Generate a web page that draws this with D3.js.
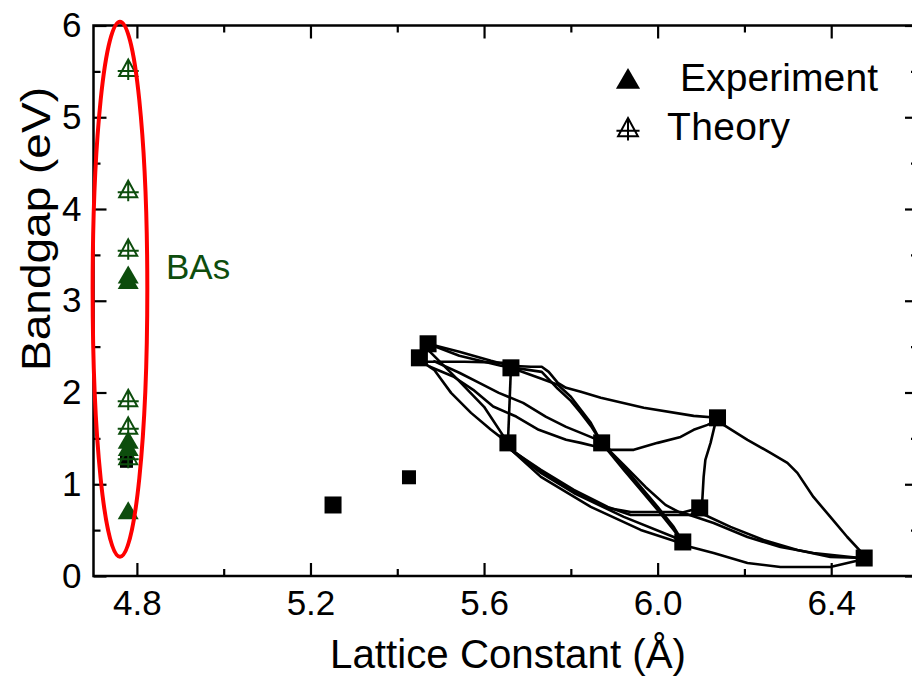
<!DOCTYPE html>
<html>
<head>
<meta charset="utf-8">
<script src="https://cdn.jsdelivr.net/npm/d3@7"></script>
<style>
  html, body { margin: 0; padding: 0; background: #fff; }
  svg { display: block; font-family: "Liberation Sans", Arial, sans-serif; }
</style>
</head>
<body>
<svg id="chart" width="912" height="679"></svg>
<script>
// ---- axis ticks ----
const xMajorTicks = [4.8, 5.2, 5.6, 6.0, 6.4];
const xMinorTicks = [5.0, 5.4, 5.8, 6.2];
const yMajorTicks = [0, 1, 2, 3, 4, 5, 6];
const yMinorTicks = [0.5, 1.5, 2.5, 3.5, 4.5, 5.5];

// ---- binary compounds: lattice constant (Å) and bandgap (eV) ----
const binaryNames   = ["GaP", "AlP", "AlAs", "GaAs", "InP", "AlSb", "GaSb", "InAs", "InSb"];
const binaryLattice = [5.451, 5.471, 5.662, 5.655, 5.871, 6.138, 6.097, 6.058, 6.476];
const binaryGap     = [2.378, 2.531, 2.269, 1.451, 1.451, 1.724, 0.742, 0.371, 0.196];

// ---- other single points (black squares) ----
const otherNames   = ["Ge-like", "Si", "BAs (ref)"];
const otherLattice = [5.252, 5.427, 4.776];
const otherGap     = [0.774, 1.076, 1.250];

// ---- BAs reports ----
const basLattice       = 4.780;
const basExperimentGap = [3.27, 3.21, 1.47, 1.39, 0.70];
const basTheoryGap     = [5.52, 4.20, 3.56, 1.92, 1.62, 1.29];

// ---- alloy curves [lattice, gap] ----
const alGaAs   = [[5.662, 2.269], [5.655, 1.451]];
const alAsP    = [[5.471, 2.531], [5.543, 2.444], [5.616, 2.345], [5.660, 2.291]];
const gaPAlAs  = [[5.467, 2.335], [5.555, 2.335], [5.644, 2.324]];
const alAsSb   = [[5.660, 2.291], [5.708, 2.280], [5.733, 2.280], [5.749, 2.225], [5.770, 2.105],
                  [5.789, 2.051], [5.823, 2.007], [5.869, 1.942], [5.968, 1.833], [6.083, 1.745], [6.138, 1.724]];
const alInAs   = [[5.662, 2.269], [5.726, 2.160], [5.770, 2.084], [5.800, 1.953], [5.823, 1.811],
                  [5.846, 1.669], [5.871, 1.451], [5.922, 1.189], [5.961, 0.971], [6.000, 0.753],
                  [6.037, 0.535], [6.058, 0.371]];
const alInP    = [[5.471, 2.531], [5.543, 2.400], [5.639, 2.291], [5.733, 2.225], [5.770, 2.040],
                  [5.800, 1.909], [5.823, 1.778], [5.846, 1.636], [5.871, 1.451]];
const gaInP    = [[5.483, 2.345], [5.543, 2.215], [5.589, 2.105], [5.634, 1.996], [5.690, 1.887],
                  [5.743, 1.735], [5.789, 1.625], [5.823, 1.560], [5.862, 1.484], [5.871, 1.451]];
const gaInPb   = [[5.474, 2.283], [5.529, 2.174], [5.575, 2.029], [5.621, 1.847], [5.674, 1.738],
                  [5.726, 1.593], [5.789, 1.484], [5.823, 1.451], [5.862, 1.407], [5.871, 1.429]];
const inPAlSb  = [[5.871, 1.429], [5.892, 1.375], [5.945, 1.375], [6.000, 1.451], [6.053, 1.516],
                  [6.083, 1.593], [6.115, 1.647], [6.138, 1.702]];
const gaAsP    = [[5.451, 2.356], [5.485, 2.247], [5.524, 1.996], [5.570, 1.778], [5.616, 1.593], [5.655, 1.451]];
const alPGaAs  = [[5.471, 2.465], [5.540, 2.138], [5.600, 1.844], [5.655, 1.451]];
const gaInAs   = [[5.662, 1.375], [5.731, 1.124], [5.807, 0.905], [5.922, 0.644], [6.037, 0.425], [6.058, 0.371]];
const gaInAsb  = [[5.655, 1.407], [5.731, 1.080], [5.846, 0.753], [5.961, 0.502], [6.046, 0.371]];
const gaAsSb   = [[5.662, 1.375], [5.731, 1.156], [5.807, 0.938], [5.885, 0.753], [5.938, 0.665],
                  [6.076, 0.665], [6.097, 0.742]];
const gaAsInSb = [[5.655, 1.407], [5.731, 1.135], [5.807, 0.916], [5.885, 0.742], [5.938, 0.698],
                  [6.053, 0.698], [6.129, 0.578], [6.207, 0.425], [6.283, 0.316], [6.359, 0.251], [6.467, 0.196]];
const inAsP    = [[5.871, 1.451], [5.922, 1.156], [5.961, 0.938], [6.000, 0.720], [6.037, 0.502], [6.058, 0.371]];
const inPGaSb  = [[5.871, 1.451], [5.922, 1.211], [5.972, 0.971], [6.018, 0.775], [6.053, 0.687], [6.097, 0.742]];
const alGaSb   = [[6.138, 1.724], [6.133, 1.669], [6.122, 1.451], [6.110, 1.265], [6.106, 1.080],
                  [6.103, 0.829], [6.097, 0.742]];
const alInSb   = [[6.138, 1.724], [6.152, 1.647], [6.207, 1.484], [6.260, 1.342], [6.299, 1.233],
                  [6.322, 1.124], [6.359, 0.862], [6.398, 0.644], [6.437, 0.425], [6.471, 0.251], [6.476, 0.196]];
const gaInSb   = [[6.097, 0.742], [6.099, 0.687], [6.168, 0.535], [6.244, 0.393], [6.322, 0.284],
                  [6.398, 0.207], [6.476, 0.196]];
const inAsSb   = [[6.058, 0.371], [6.076, 0.316], [6.129, 0.251], [6.207, 0.142], [6.283, 0.098],
                  [6.398, 0.098], [6.467, 0.175]];

const alloyCurves = [alGaAs, alAsP, gaPAlAs, alAsSb, alInAs, alInP, gaInP, gaInPb, inPAlSb, gaAsP,
                     alPGaAs, gaInAs, gaInAsb, gaAsSb, gaAsInSb, inAsP, inPGaSb, alGaSb, alInSb,
                     gaInSb, inAsSb];

// ---- drawing ----
const svg = d3.select("#chart");
const green = "#0d4d0d";
const font = '"Liberation Sans", Arial, sans-serif';

const x = d3.scaleLinear().domain([4.7, 6.6]).range([93.5, 918]);
const y = d3.scaleLinear().domain([0, 6]).range([576, 25.5]);

// alloy curves
const line = d3.line().x(d => x(d[0])).y(d => y(d[1]));
svg.append("g")
  .selectAll("path")
  .data(alloyCurves)
  .join("path")
  .attr("d", line)
  .attr("fill", "none")
  .attr("stroke", "#000")
  .attr("stroke-width", 2.6)
  .attr("stroke-linejoin", "round");

// binary squares
const sq = 17;
svg.append("g")
  .selectAll("rect")
  .data(binaryLattice.map((v, i) => [v, binaryGap[i]]))
  .join("rect")
  .attr("x", d => x(d[0]) - sq / 2)
  .attr("y", d => y(d[1]) - sq / 2)
  .attr("width", sq).attr("height", sq)
  .attr("fill", "#000");

const otherSizes = [17, 14, 13];
svg.append("g")
  .selectAll("rect")
  .data(otherLattice.map((v, i) => [v, otherGap[i], otherSizes[i]]))
  .join("rect")
  .attr("x", d => x(d[0]) - d[2] / 2)
  .attr("y", d => y(d[1]) - d[2] / 2)
  .attr("width", d => d[2]).attr("height", d => d[2])
  .attr("fill", "#000");

// marker shapes
function filledTriangle(g, cx, cy, color, s) {
  const k = s || 1;
  g.append("path")
    .attr("d", `M${cx},${cy - 10.5 * k}L${cx + 10.5 * k},${cy + 7.5 * k}L${cx - 10.5 * k},${cy + 7.5 * k}Z`)
    .attr("fill", color);
}
function theoryMark(g, cx, cy, color, s) {
  const k = s || 1;
  g.append("path")
    .attr("d", `M${cx},${cy - 10 * k}L${cx + 9 * k},${cy + 6.5 * k}L${cx - 9 * k},${cy + 6.5 * k}Z` +
               `M${cx - 10.5 * k},${cy + 1.5 * k}L${cx + 10.5 * k},${cy + 1.5 * k}` +
               `M${cx},${cy - 10 * k}L${cx},${cy + 10.5 * k}`)
    .attr("fill", "none")
    .attr("stroke", color)
    .attr("stroke-width", 2);
}

// BAs points
const basG = svg.append("g");
basTheoryGap.forEach(v => theoryMark(basG, x(basLattice), y(v), green));
basExperimentGap.forEach(v => filledTriangle(basG, x(basLattice), y(v), green));

// frame
svg.append("rect")
  .attr("x", 93.5).attr("y", 25.5)
  .attr("width", 918 - 93.5).attr("height", 576 - 25.5)
  .attr("fill", "none").attr("stroke", "#000").attr("stroke-width", 2.5);

// axes
const fs = 35;
function styleAxis(g) {
  g.select(".domain").remove();
  g.selectAll(".tick line").attr("stroke", "#000").attr("stroke-width", 2.2);
  g.selectAll(".tick text").attr("fill", "#000").style("font-size", fs + "px")
    .style("font-family", font);
}
svg.append("g").attr("transform", "translate(0,576)")
  .call(d3.axisBottom(x).tickValues(xMajorTicks).tickSize(-13).tickPadding(14).tickFormat(d3.format(".1f")))
  .call(styleAxis);
svg.append("g").attr("transform", "translate(0,576)")
  .call(d3.axisBottom(x).tickValues(xMinorTicks).tickSize(-7).tickFormat(""))
  .call(styleAxis);
svg.append("g").attr("transform", "translate(0,25.5)")
  .call(d3.axisTop(x).tickValues(xMajorTicks).tickSize(-13).tickFormat(""))
  .call(styleAxis);
svg.append("g").attr("transform", "translate(0,25.5)")
  .call(d3.axisTop(x).tickValues(xMinorTicks).tickSize(-7).tickFormat(""))
  .call(styleAxis);
svg.append("g").attr("transform", "translate(93.5,0)")
  .call(d3.axisLeft(y).tickValues(yMajorTicks).tickSize(-13).tickPadding(12).tickFormat(d3.format("d")))
  .call(styleAxis);
svg.append("g").attr("transform", "translate(93.5,0)")
  .call(d3.axisLeft(y).tickValues(yMinorTicks).tickSize(-7).tickFormat(""))
  .call(styleAxis);
svg.append("g").attr("transform", "translate(918,0)")
  .call(d3.axisRight(y).tickValues(yMajorTicks).tickSize(-13).tickFormat(""))
  .call(styleAxis);
svg.append("g").attr("transform", "translate(918,0)")
  .call(d3.axisRight(y).tickValues(yMinorTicks).tickSize(-7).tickFormat(""))
  .call(styleAxis);

// axis titles
svg.append("text")
  .attr("x", 508).attr("y", 668)
  .attr("text-anchor", "middle")
  .attr("textLength", 356).attr("lengthAdjust", "spacingAndGlyphs")
  .style("font-size", "40px")
  .text("Lattice Constant (Å)");
svg.append("text")
  .attr("transform", "translate(50,229) rotate(-90)")
  .attr("text-anchor", "middle")
  .attr("textLength", 284).attr("lengthAdjust", "spacingAndGlyphs")
  .style("font-size", "41px")
  .text("Bandgap (eV)");

// BAs highlight
const ell = { x0: 4.698, x1: 4.824, y0: 0.21, y1: 6.04 };
svg.append("ellipse")
  .attr("cx", (x(ell.x0) + x(ell.x1)) / 2)
  .attr("cy", (y(ell.y0) + y(ell.y1)) / 2)
  .attr("rx", (x(ell.x1) - x(ell.x0)) / 2)
  .attr("ry", (y(ell.y0) - y(ell.y1)) / 2)
  .attr("fill", "none").attr("stroke", "#ff0000").attr("stroke-width", 4);

svg.append("text")
  .attr("x", 166).attr("y", 279)
  .attr("fill", green)
  .style("font-size", "35px")
  .text("BAs");

// legend
const leg = svg.append("g");
filledTriangle(leg, 628, 80, "#000", 1.15);
leg.append("text").attr("x", 680).attr("y", 91).style("font-size", "39px")
  .attr("textLength", 198).attr("lengthAdjust", "spacing").text("Experiment");
theoryMark(leg, 628, 129, "#000", 1.1);
leg.append("text").attr("x", 667).attr("y", 140).style("font-size", "39px")
  .attr("textLength", 123).attr("lengthAdjust", "spacing").text("Theory");
</script>
</body>
</html>
